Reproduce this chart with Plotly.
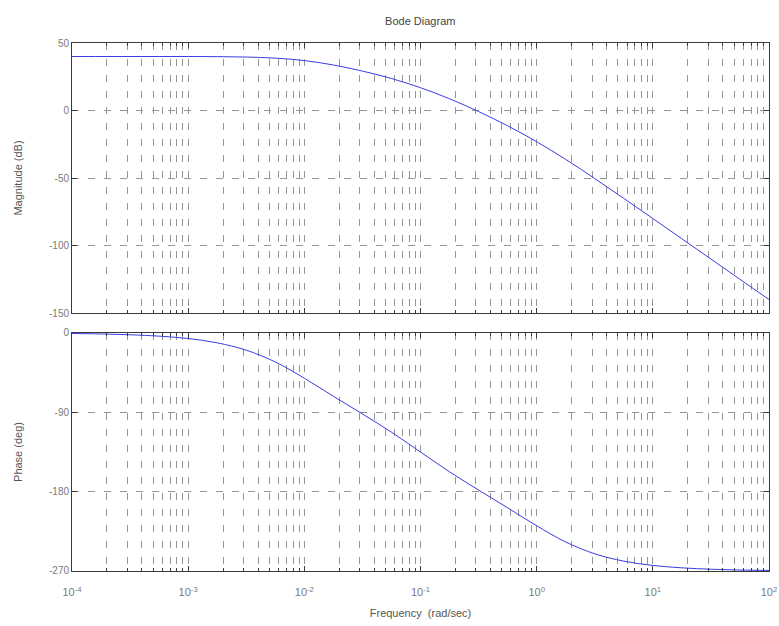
import plotly.graph_objects as go
from plotly.subplots import make_subplots

# Frequency samples (rad/sec), quarter-decade steps from 1e-4 to 1e2
freq = [1e-4, 1.778e-4, 3.162e-4, 5.623e-4,
        1e-3, 1.778e-3, 3.162e-3, 5.623e-3,
        1e-2, 1.778e-2, 3.162e-2, 5.623e-2,
        1e-1, 1.778e-1, 3.162e-1, 5.623e-1,
        1e0, 1.778e0, 3.162e0, 5.623e0,
        1e1, 1.778e1, 3.162e1, 5.623e1,
        1e2]

# Magnitude response (dB)
magnitude_db = [40.0, 40.0, 40.0, 40.0,
                40.0, 39.9, 39.6, 38.8,
                37.0, 33.7, 29.2, 23.7,
                16.9, 8.7, -0.8, -11.3,
                -23.1, -36.2, -50.4, -65.1,
                -80.0, -95.0, -110.0, -125.0,
                -140.0]

# Phase response (deg)
phase_deg = [-0.6, -1.1, -2.0, -3.6,
             -6.3, -11.2, -19.5, -32.9,
             -51.3, -71.8, -91.8, -112.5,
             -135.0, -157.5, -178.2, -198.3,
             -218.7, -237.1, -250.5, -258.8,
             -263.7, -266.4, -268.0, -268.9,
             -269.4]

decade_exps = [-4, -3, -2, -1, 0, 1, 2]
mag_ticks = [50, 0, -50, -100, -150]
phase_ticks = [0, -90, -180, -270]

# Major ticks at each decade, minor ticks at 2..9 within each decade
x_major = [10.0 ** e for e in decade_exps]
x_major_text = [f"10<sup>{e}</sup>" for e in decade_exps]
x_minor = [m * 10.0 ** e for e in decade_exps[:-1] for m in range(2, 10)]

line_color = "#3c3ce0"
grid_color = "rgb(150,150,150)"
frame_color = "#3a3a3a"
text_color = "#555555"
tick_color = "#7a7a7a"
font_family = "Liberation Sans, Arial, sans-serif"
grid_dash = "7px,9px"

fig = make_subplots(rows=2, cols=1, shared_xaxes=False, vertical_spacing=0.04)

fig.add_trace(go.Scatter(x=freq, y=magnitude_db, mode="lines",
                         line=dict(color=line_color, width=1, shape="spline"),
                         showlegend=False), row=1, col=1)
fig.add_trace(go.Scatter(x=freq, y=phase_deg, mode="lines",
                         line=dict(color=line_color, width=1, shape="spline"),
                         showlegend=False), row=2, col=1)

common_x = dict(
    type="log", range=[-4, 2], automargin=False,
    tickmode="array", tickvals=x_major,
    showgrid=True, gridcolor=grid_color, gridwidth=1, griddash=grid_dash,
    ticks="inside", ticklen=5, tickcolor=frame_color,
    minor=dict(tickmode="array", tickvals=x_minor, ticks="inside", ticklen=3,
               tickcolor=frame_color, showgrid=True, gridcolor=grid_color,
               gridwidth=1, griddash=grid_dash),
    showline=True, linecolor=frame_color, linewidth=1, mirror="allticks",
    zeroline=False,
    tickfont=dict(size=11, color=tick_color, family=font_family),
)
common_y = dict(
    showgrid=True, gridcolor=grid_color, gridwidth=1, griddash=grid_dash,
    ticks="inside", ticklen=5, tickcolor=frame_color,
    showline=True, linecolor=frame_color, linewidth=1, mirror="allticks",
    zeroline=False, tickmode="array",
    tickfont=dict(size=10, color=tick_color, family=font_family),
)

fig.update_xaxes(**common_x, showticklabels=False, row=1, col=1)
fig.update_xaxes(**common_x, ticktext=x_major_text, ticklabelstandoff=11,
                 title=dict(text="Frequency  (rad/sec)",
                            font=dict(size=11, color=text_color, family=font_family),
                            standoff=12),
                 row=2, col=1)
fig.update_yaxes(**common_y, range=[-150, 50], tickvals=mag_ticks,
                 ticktext=[str(v) for v in mag_ticks],
                 title=dict(text="Magnitude (dB)",
                            font=dict(size=11, color=text_color, family=font_family),
                            standoff=24),
                 row=1, col=1)
fig.update_yaxes(**common_y, range=[-270, 0], tickvals=phase_ticks,
                 ticktext=[str(v) for v in phase_ticks],
                 title=dict(text="Phase (deg)",
                            font=dict(size=11, color=text_color, family=font_family),
                            standoff=24),
                 row=2, col=1)

fig.update_layout(
    width=779, height=626,
    margin=dict(l=72, r=10, t=43, b=55),
    paper_bgcolor="white", plot_bgcolor="white",
    title=dict(text="Bode Diagram", x=0.5395, xanchor="center", y=0.966, yanchor="middle",
               font=dict(size=11, color="#444444", family=font_family)),
    yaxis=dict(domain=[0.4886, 1.0]),
    yaxis2=dict(domain=[0.0, 0.4508]),
)

fig.write_html("out.html")
